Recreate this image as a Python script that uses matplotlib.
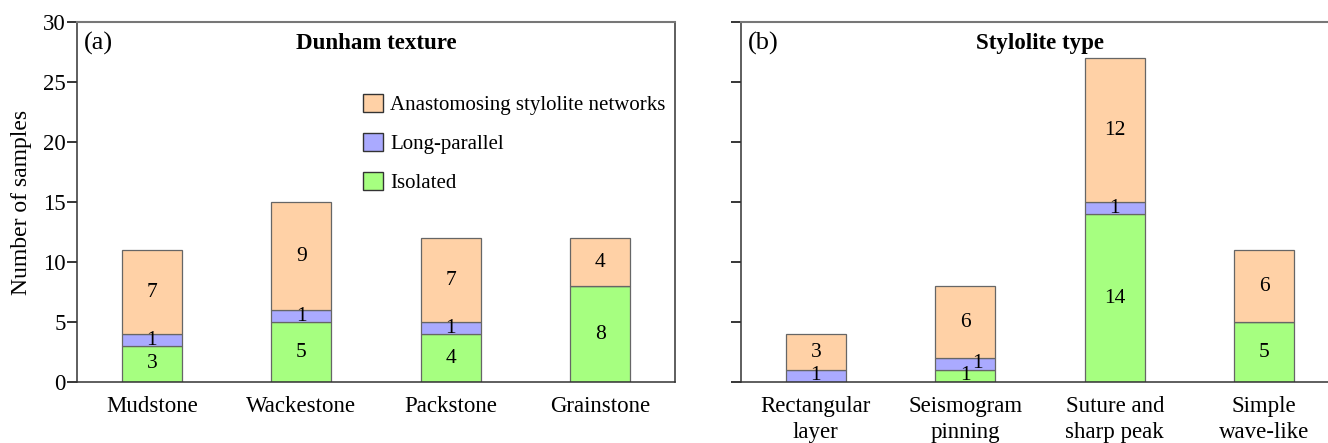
import numpy as np
import matplotlib.pyplot as plt
from matplotlib.patches import Patch

plt.rcParams["font.family"] = ["Liberation Serif", "DejaVu Serif"]

# Dunham texture counts
dunham_labels = ["Mudstone", "Wackestone", "Packstone", "Grainstone"]
dunham_isolated = [3, 5, 4, 8]
dunham_long = [1, 1, 1, 0]
dunham_anast = [7, 9, 7, 4]

# stylolite type counts
type_labels = ["Rectangular\nlayer", "Seismogram\npinning", "Suture and\nsharp peak", "Simple\nwave-like"]
type_isolated = [0, 1, 14, 5]
type_long = [1, 1, 1, 0]
type_anast = [3, 6, 12, 6]

series_names = ["Isolated", "Long-parallel", "Anastomosing stylolite networks"]
colors = ["#a6ff80", "#aaaaff", "#ffd1a6"]


def stacked(ax, labels, stacks, title, tag):
    x = np.arange(len(labels))
    bottom = np.zeros(len(labels))
    prev_thin = np.zeros(len(labels), dtype=bool)
    for vals, c in zip(stacks, colors):
        vals = np.asarray(vals, dtype=float)
        ax.bar(x, vals, width=0.4, bottom=bottom, color=c,
               edgecolor="#666666", linewidth=0.9, zorder=2)
        for i, v in enumerate(vals):
            if v == 0:
                continue
            # nudge a thin-segment label sideways when the one below is thin too
            dx = 0.08 if (v < 2 and prev_thin[i]) else 0
            ax.text(x[i] + dx, bottom[i] + v / 2, f"{int(v)}", ha="center",
                    va="center", fontsize=15.5, zorder=3)
        prev_thin = (vals > 0) & (vals < 2)
        bottom += vals

    ax.set_xlim(-0.5, len(labels) - 0.5)
    ax.set_ylim(0, 30)
    ax.set_yticks(range(0, 31, 5))
    ax.set_xticks(x)
    ax.set_xticklabels(labels, fontsize=16.5, linespacing=1.3)
    ax.tick_params(axis="x", length=0, pad=10)
    ax.tick_params(axis="y", length=7, width=1.1, direction="out",
                   labelsize=16.5, pad=1)
    for side in ["left", "right", "bottom"]:
        ax.spines[side].set_color("#333333")
        ax.spines[side].set_linewidth(1.1)
    ax.spines["top"].set_color("#777777")
    ax.spines["top"].set_linewidth(1.5)

    ax.text(0.5, 0.94, title, transform=ax.transAxes, ha="center", va="center",
            fontsize=16.5, fontweight="bold")
    ax.text(0.012, 0.94, tag, transform=ax.transAxes, ha="left", va="center",
            fontsize=19)


fig = plt.figure(figsize=(13.28, 4.43), dpi=100)
ax1 = fig.add_axes([0.058, 0.1377, 0.4503, 0.8126])
ax2 = fig.add_axes([0.558, 0.1377, 0.4503, 0.8126])

stacked(ax1, dunham_labels, [dunham_isolated, dunham_long, dunham_anast],
        "Dunham texture", "(a)")
stacked(ax2, type_labels, [type_isolated, type_long, type_anast],
        "Stylolite type", "(b)")

ax1.set_ylabel("Number of samples", fontsize=17, labelpad=8)
ax2.set_yticklabels([])

handles = [Patch(facecolor=c, edgecolor="#333333", linewidth=1.0) for c in colors]
ax1.legend(handles[::-1], series_names[::-1], loc="upper left",
           bbox_to_anchor=(0.478, 0.80), frameon=False, fontsize=15,
           handlelength=0.95, handleheight=0.95, handletextpad=0.35,
           labelspacing=0.85, borderaxespad=0, borderpad=0)

fig.savefig("out.png", dpi=100)
